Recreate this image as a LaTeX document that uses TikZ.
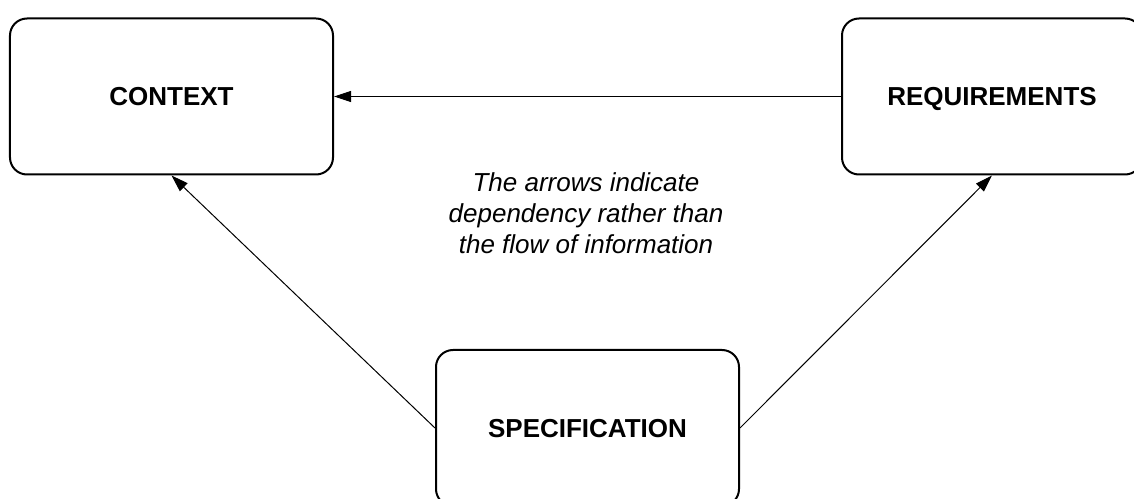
\documentclass[tikz,border=0pt]{standalone}
\usepackage{fontspec}
\setmainfont{Liberation Sans}
\usetikzlibrary{arrows.meta}
\tikzset{
  box/.style={draw, line width=2bp, rounded corners=17bp, minimum height=156bp, inner sep=0pt,
    text height=18.7bp, text depth=0pt,
    font=\fontsize{26bp}{31bp}\selectfont\bfseries},
  dep/.style={line width=1bp, -{Triangle[length=17bp,width=11bp]}},
  note/.style={align=center, font=\fontsize{26bp}{31bp}\selectfont\itshape}
}
\begin{document}
\begin{tikzpicture}[x=1bp,y=-1bp]
\useasboundingbox (0,0) rectangle (1134,499);
\node[box, minimum width=323bp] (ctx) at (171.5,96.5) {CONTEXT};
\node[box, minimum width=300bp] (req) at (992,96.5) {REQUIREMENTS};
\node[box, minimum width=303bp] (spec) at (587.5,428) {SPECIFICATION};
\node[note] (n) at (586,213) {The arrows indicate\\dependency rather than\\the flow of information};
\draw[dep] (req.west) -- (ctx.east);
\draw[dep] (spec.west) -- (ctx.south);
\draw[dep] (spec.east) -- (req.south);
\end{tikzpicture}
\end{document}
